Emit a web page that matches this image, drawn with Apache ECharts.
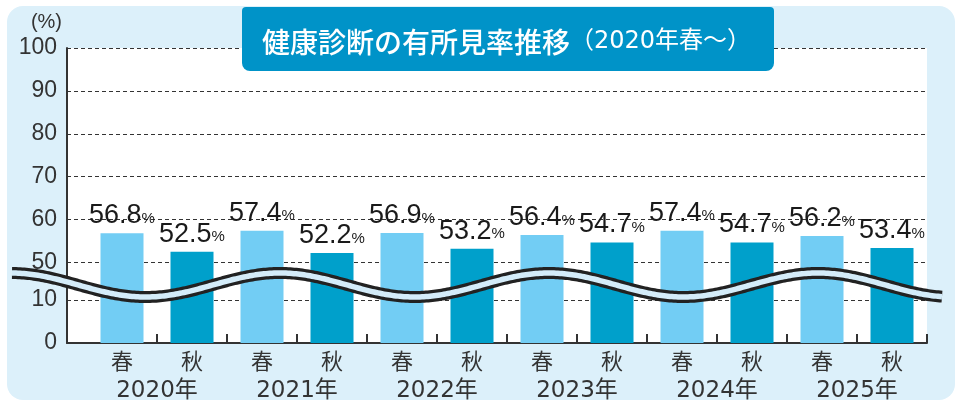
<!DOCTYPE html>
<html>
<head>
<meta charset="utf-8">
<script src="https://cdn.jsdelivr.net/npm/echarts@6/dist/echarts.min.js"></script>
<style>
  html, body { margin: 0; padding: 0; background: #fff; }
  #chart { width: 962px; height: 403px; }
</style>
</head>
<body>
<div id="chart"></div>
<script>
// data
const seasons = ['春', '秋', '春', '秋', '春', '秋', '春', '秋', '春', '秋', '春', '秋']
const years = ['2020年', '2021年', '2022年', '2023年', '2024年', '2025年']
const rates = [56.8, 52.5, 57.4, 52.2, 56.9, 53.2, 56.4, 54.7, 57.4, 54.7, 56.2, 53.4]
const yTicks = [0, 10, 50, 60, 70, 80, 90, 100]

// broken axis: 10..50 squeezed into a short span
const BREAK_LO = 10
const BREAK_HI = 50
const BREAK_SPAN = 8.75
const toAxis = v => v <= BREAK_LO ? v
  : v >= BREAK_HI ? BREAK_LO + BREAK_SPAN + (v - BREAK_HI)
  : BREAK_LO + (v - BREAK_LO) / (BREAK_HI - BREAK_LO) * BREAK_SPAN
const fromAxis = d => d <= BREAK_LO ? d
  : d >= BREAK_LO + BREAK_SPAN ? d - BREAK_LO - BREAK_SPAN + BREAK_HI
  : BREAK_LO + (d - BREAK_LO) / BREAK_SPAN * (BREAK_HI - BREAK_LO)

const colors = { '春': '#72cdf4', '秋': '#00a0cb' }
const numFont = '"Liberation Sans", Arial, sans-serif'
const jpFont = '"DejaVu Sans", "Noto Sans CJK JP", sans-serif'

const chart = echarts.init(document.getElementById('chart'))

// wave decoration across the break
const wave = []
for (let x = 12; x <= 942; x += 2) {
  wave.push([x, 285 - 12 * Math.cos(2 * Math.PI * (x - 11) / 269)])
}

const option = {
  animation: false,
  grid: {
    left: 67, right: 35, top: 48, bottom: 58,
    show: true, backgroundColor: '#fff', borderWidth: 0
  },
  graphic: [
    {
      type: 'rect', z: -10, silent: true,
      shape: { x: 7, y: 6, width: 948, height: 394, r: 16 },
      style: { fill: '#dcf0fa' }
    },
    {
      type: 'polyline', z: 50, silent: true,
      shape: { points: wave },
      style: { stroke: '#222', lineWidth: 12, fill: null }
    },
    {
      type: 'polyline', z: 51, silent: true,
      shape: { points: wave },
      style: { stroke: '#d4ecf9', lineWidth: 5.5, fill: null }
    },
    {
      type: 'rect', z: 60, silent: true,
      shape: { x: 242, y: 7, width: 532, height: 64, r: [4, 4, 8, 8] },
      style: { fill: '#0093c8' }
    },
    {
      type: 'text', z: 61, silent: true,
      x: 262, y: 42,
      style: {
        text: '{a|健康診断の有所見率推移}{b|（2020年春～）}',
        verticalAlign: 'middle',
        rich: {
          a: { fontSize: 28, fontWeight: 500, fill: '#fff', fontFamily: '"Noto Sans CJK JP"' },
          b: { fontSize: 24, fill: '#fff', fontFamily: jpFont }
        }
      }
    }
  ],
  xAxis: [
    {
      type: 'value', min: -20 / 70, max: seasons.length,
      splitLine: { show: false },
      axisLine: { onZero: false, lineStyle: { color: '#333', width: 2 } },
      axisTick: {
        inside: true, length: 9, lineStyle: { color: '#333', width: 2 },
        customValues: seasons.map((s, i) => i + 1)
      },
      axisLabel: {
        customValues: seasons.map((s, i) => i + 0.5),
        formatter: v => seasons[Math.floor(v)],
        margin: 7, fontSize: 22, color: '#333', fontFamily: '"Noto Sans CJK JP"'
      }
    },
    {
      type: 'value', min: -20 / 70, max: seasons.length, position: 'bottom',
      splitLine: { show: false },
      axisLine: { show: false, onZero: false },
      axisTick: { show: false },
      axisLabel: {
        customValues: years.map((y, i) => i * 2 + 1),
        formatter: v => years[(v - 1) / 2],
        margin: 37, fontSize: 23, color: '#333', fontFamily: jpFont
      }
    }
  ],
  yAxis: {
    type: 'value', min: 0, max: toAxis(100),
    name: '(%)', nameLocation: 'end', nameGap: 16,
    nameTextStyle: { align: 'right', padding: [0, 5, 0, 0], fontSize: 20, color: '#333', fontFamily: '"Liberation Sans"' },
    axisLine: { show: true, onZero: false, lineStyle: { color: '#333', width: 2 } },
    axisTick: { show: false, customValues: yTicks.map(toAxis) },
    splitLine: { show: true, lineStyle: { color: '#333', width: 1, type: [4, 3] } },
    axisLabel: {
      customValues: yTicks.map(toAxis),
      formatter: d => String(Math.round(fromAxis(d))),
      margin: 10, fontSize: 23, color: '#333', fontFamily: '"Liberation Sans"',
      padding: [0, 0, 10, 0]
    }
  },
  series: [
    {
      type: 'bar',
      barWidth: 43,
      data: rates.map((v, i) => ({
        value: [i + 0.5, toAxis(v)],
        itemStyle: { color: colors[seasons[i]] }
      })),
      label: {
        show: true, position: 'top', distance: 4,
        formatter: p => '{n|' + rates[p.dataIndex].toFixed(1) + '}{p|%}',
        rich: {
          n: { fontSize: 27, color: '#1a1a1a', fontFamily: numFont },
          p: { fontSize: 15, color: '#1a1a1a', fontFamily: numFont, padding: [6, 0, 0, 0] }
        }
      }
    }
  ]
}

chart.setOption(option)
</script>
</body>
</html>
